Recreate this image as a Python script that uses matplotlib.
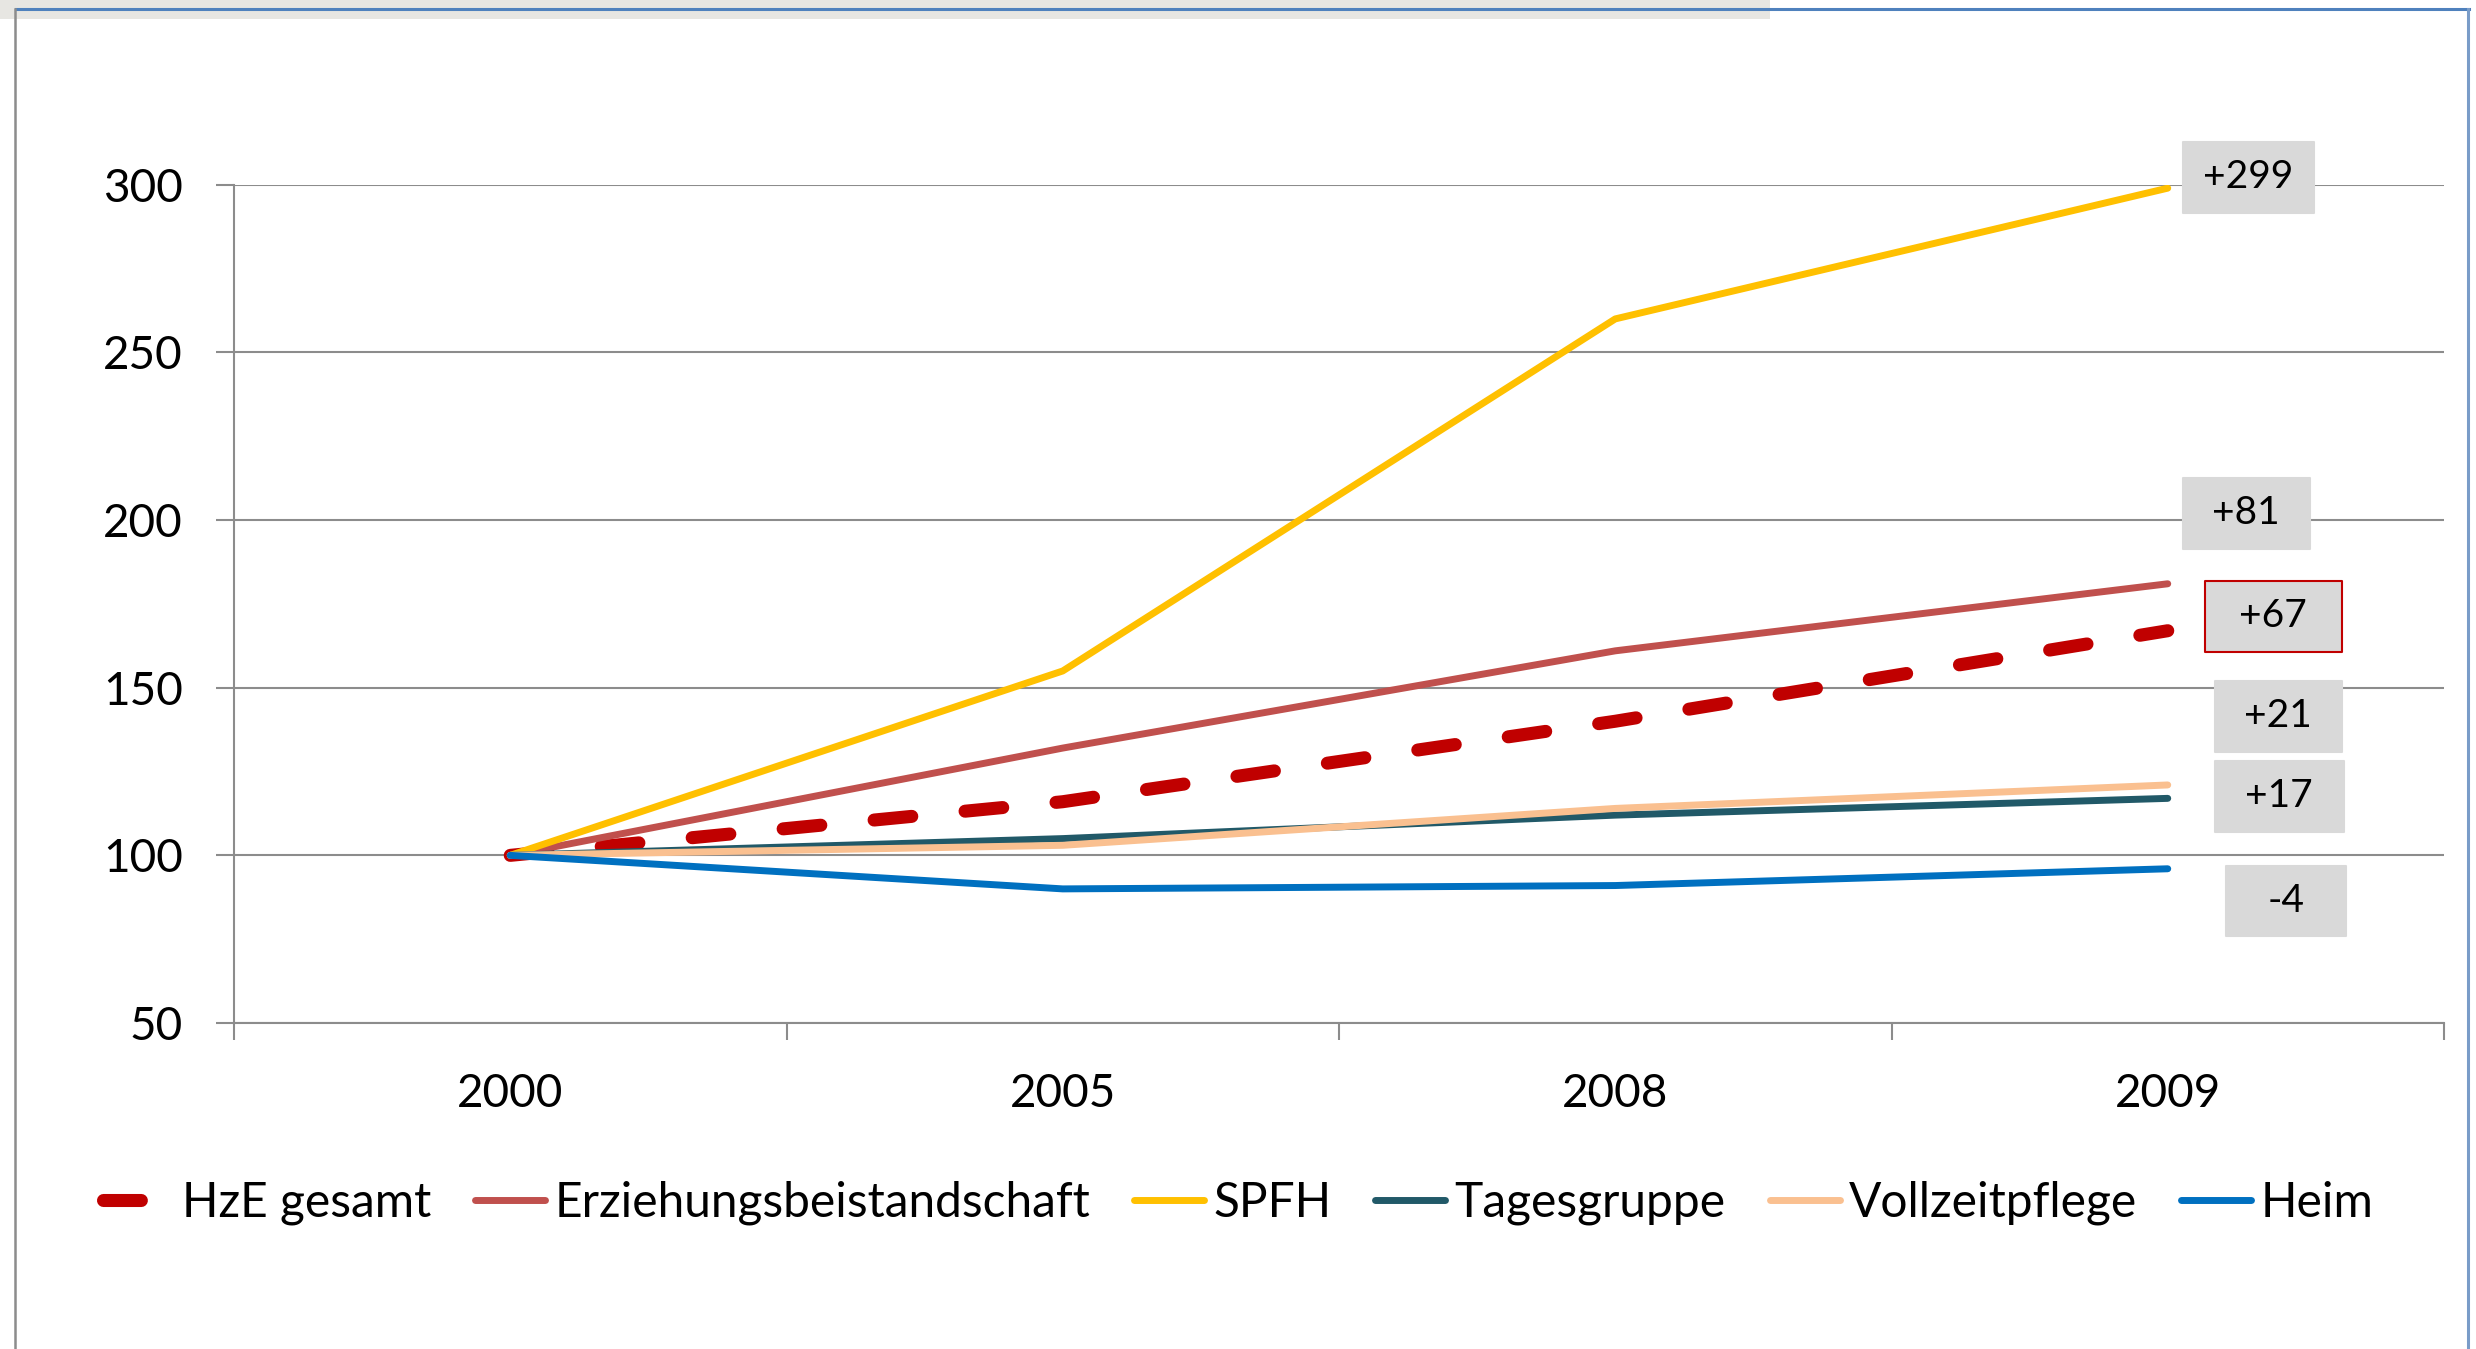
#
# h z e _ index . p y
#

import matplotlib
matplotlib.use("Agg")
from matplotlib import pyplot as plot
from matplotlib.patches import Rectangle
from matplotlib.lines import Line2D
from matplotlib.path import Path
from matplotlib.transforms import offset_copy

# data (index, 2000 = 100)
years = ["2000", "2005", "2008", "2009"]

hzeGesamt = [100, 116, 140, 167]
erziehung = [100, 132, 161, 181]
spfh = [100, 155, 260, 299]
tagesgruppe = [100, 105, 112, 117]
vollzeit = [100, 103, 114, 121]
heim = [100, 90, 91, 96]

names = ["HzE gesamt", "Erziehungsbeistandschaft", "SPFH", "Tagesgruppe",
         "Vollzeitpflege", "Heim"]
changes = ["+67", "+81", "+299", "+17", "+21", "-4"]

# label offsets from the 2009 point, in pixels, and label box widths
labelOff = [(105, 15), (78, 71), (80, 11), (111, 2), (110, 69), (118, -32)]
boxW = [137, 127, 131, 129, 127, 121]
boxH = 71

colors = ["#C00000", "#C0504D", "#FFC000", "#215968", "#FAC090", "#0070C0"]


###############################################################
def BoxMarker(w, h):
  # rectangle marker path with the given aspect
  a, b = w / 2, h / 2
  return Path([(-a, -b), (a, -b), (a, b), (-a, b), (-a, -b)],
              [Path.MOVETO, Path.LINETO, Path.LINETO, Path.LINETO, Path.CLOSEPOLY])


###############################
if __name__ == "__main__":
  plot.rcParams['font.family'] = ['Lato', 'DejaVu Sans']

  W, H = 2476, 1349
  fig = plot.figure(figsize=(W/100, H/100), dpi=100)

  # slide frame decoration
  fig.patches.append(Rectangle((0, 1 - 19/H), 1770/W, 19/H, transform=fig.transFigure,
                               facecolor="#E7E6E2", edgecolor="none", zorder=0))
  fig.add_artist(Line2D([16/W, 2469/W], [1 - 9/H, 1 - 9/H], transform=fig.transFigure,
                        color="#4F81BD", lw=2.2))
  fig.add_artist(Line2D([15/W, 15/W], [0, 1 - 9/H], transform=fig.transFigure,
                        color="#8C8C8C", lw=1.8))
  fig.add_artist(Line2D([2468/W, 2468/W], [0, 1 - 9/H], transform=fig.transFigure,
                        color="#7A9CC8", lw=2.2))

  ax = fig.add_axes([234/W, 1 - 1023/H, (2444 - 234)/W, (1023 - 184.8)/H])

  series = [hzeGesamt, erziehung, spfh, tagesgruppe, vollzeit, heim]
  x = list(range(len(years)))
  handles = []
  for i, (vals, name, col) in enumerate(zip(series, names, colors)):
    if i == 0:
      h, = ax.plot(x, vals, color=col, lw=9.4, dashes=(2.9, 4.1),
                   dash_capstyle='round', solid_capstyle='round', label=name, zorder=3)
    else:
      h, = ax.plot(x, vals, color=col, lw=5, solid_capstyle='round', label=name,
                   zorder=3 + i)
    handles.append(h)

  # change labels at the right end
  for i, (vals, txt, off, bw) in enumerate(zip(series, changes, labelOff, boxW)):
    tr = offset_copy(ax.transData, fig=fig, x=off[0], y=off[1], units='dots')
    ax.plot([x[-1]], [vals[-1]], transform=tr, linestyle='none',
            marker=BoxMarker(bw, boxH), markersize=bw * 0.72,
            markerfacecolor='#D9D9D9',
            markeredgecolor='#C00000' if i == 0 else '#D9D9D9',
            markeredgewidth=1.5, clip_on=False, zorder=10)
    ax.annotate(txt, xy=(x[-1], vals[-1]), xytext=off, textcoords='offset pixels',
                ha='center', va='center', fontsize=28, color='black',
                annotation_clip=False, zorder=11)

  ax.set_xlim(-0.5, len(years) - 0.5)
  ax.set_ylim(50, 300)
  ax.set_yticks(range(50, 301, 50))
  ax.set_xticks(x)
  ax.set_xticklabels(years)
  ax.set_xticks([v - 0.5 for v in range(len(years) + 1)], minor=True)

  gridCol = "#8C8C8C"
  ax.grid(axis='y', color=gridCol, lw=1.5, zorder=1)
  ax.set_axisbelow(True)
  for s in ("top", "right"):
    ax.spines[s].set_visible(False)
  for s in ("left", "bottom"):
    ax.spines[s].set_color(gridCol)
    ax.spines[s].set_linewidth(1.5)

  ax.tick_params(axis='y', length=13, width=1.5, color=gridCol, pad=24, labelsize=33)
  ax.tick_params(axis='x', which='major', length=0, pad=36, labelsize=33)
  ax.tick_params(axis='x', which='minor', length=12, width=1.5, color=gridCol)

  fig.legend(handles=handles, loc='center', bbox_to_anchor=(0.5, 1 - 1203/H),
             ncol=6, frameon=False, fontsize=34.5, handlelength=1.46,
             handletextpad=0.19, columnspacing=0.92)

  plot.savefig('out.png', dpi=100)
